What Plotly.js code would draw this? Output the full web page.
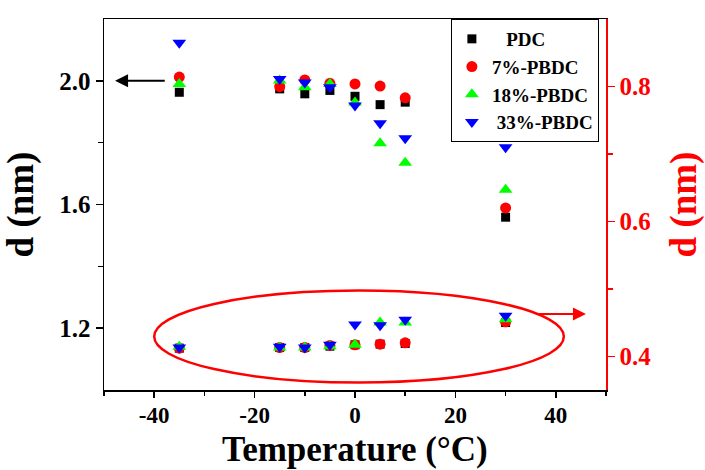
<!DOCTYPE html>
<html>
<head>
<meta charset="utf-8">
<script src="https://cdn.plot.ly/plotly-3.0.1.min.js"></script>
<style>
  html, body { margin: 0; padding: 0; background: #ffffff; }
  #chart { width: 705px; height: 470px; }
</style>
</head>
<body>
<div id="chart"></div>
<script>
// Temperatures (°C)
const temps = [-35, -15, -10, -5, 0, 5, 10, 30];

// Series names
const seriesNames = ["\u00a0\u00a0\u00a0PDC", "7%-PBDC", "18%-PBDC", "\u00a033%-PBDC"];

// Upper group, left axis d (nm)
const pdcLeft   = [1.963, 1.974, 1.958, 1.969, 1.950, 1.923, 1.931, 1.559];
const p7Left    = [2.012, 1.981, 2.003, 1.992, 1.990, 1.983, 1.945, 1.589];
const p18Left   = [1.990, 2.001, 1.979, 1.990, 1.930, 1.798, 1.735, 1.648];
const p33Left   = [2.123, 2.006, 1.995, 1.979, 1.920, 1.863, 1.814, 1.785];

// Lower group, right axis d (nm)
const pdcRight  = [0.412, 0.413, 0.413, 0.415, 0.417, 0.418, 0.419, 0.450];
const p7Right   = [0.412, 0.413, 0.413, 0.416, 0.417, 0.418, 0.420, 0.451];
const p18Right  = [0.414, 0.413, 0.413, 0.415, 0.417, 0.450, 0.450, 0.455];
const p33Right  = [0.413, 0.414, 0.413, 0.417, 0.447, 0.446, 0.454, 0.460];

// Tick labels
const xTickVals  = [-40, -20, 0, 20, 40];
const xTickText  = ["-40", "-20", "0", "20", "40"];
const yTickVals  = [1.2, 1.6, 2.0];
const yTickText  = ["1.2", "1.6", "2.0"];
const y2TickVals = [0.4, 0.6, 0.8];
const y2TickText = ["0.4", "0.6", "0.8"];

// Axis titles
const xTitle = "Temperature (°C)";
const yTitle = "d (nm)";

const colors  = ["#000000", "#ff0000", "#00ff00", "#0000ff"];
const symbols = ["square", "circle", "triangle-up", "triangle-down"];
const sizes   = [9, 11, 12, 12];
const leftData  = [pdcLeft, p7Left, p18Left, p33Left];
const rightData = [pdcRight, p7Right, p18Right, p33Right];

const FONT = "Liberation Serif, Times New Roman, serif";

const traces = [];
for (let i = 0; i < 4; i++) {
  traces.push({
    type: "scatter", mode: "markers",
    x: temps, y: leftData[i], yaxis: "y",
    name: seriesNames[i], legendgroup: "g" + i, showlegend: true,
    marker: { color: colors[i], symbol: symbols[i], size: sizes[i], line: { width: 0 } }
  });
}
for (let i = 0; i < 4; i++) {
  traces.push({
    type: "scatter", mode: "markers",
    x: temps, y: rightData[i], yaxis: "y2",
    name: seriesNames[i], legendgroup: "g" + i, showlegend: false,
    marker: { color: colors[i], symbol: symbols[i], size: sizes[i], line: { width: 0 } }
  });
}

const layout = {
  width: 705, height: 470,
  margin: { l: 104, r: 99, t: 19, b: 80, pad: 0 },
  paper_bgcolor: "#ffffff", plot_bgcolor: "#ffffff",
  font: { family: FONT, color: "#000000", weight: "bold" },
  showlegend: true,
  legend: {
    x: 0.691, y: 1, xanchor: "left", yanchor: "top",
    bordercolor: "#000000", borderwidth: 1, bgcolor: "rgba(255,255,255,0)",
    font: { family: FONT, size: 19, color: "#000000", weight: "bold" },
    itemwidth: 30, tracegroupgap: 0
  },
  xaxis: {
    range: [-50, 50],
    tickmode: "array", tickvals: xTickVals, ticktext: xTickText,
    ticks: "outside", ticklen: 6, tickwidth: 1.5, tickcolor: "#000000",
    ticklabelstandoff: -2,
    minor: { dtick: 10, tick0: 0, ticks: "outside", ticklen: 4, tickwidth: 1.5, tickcolor: "#000000", showgrid: false },
    showline: true, linecolor: "#000000", linewidth: 1.5, mirror: true,
    showgrid: false, zeroline: false,
    tickfont: { family: FONT, size: 23, color: "#000000", weight: "bold" }
  },
  yaxis: {
    range: [1.0, 2.2],
    tickmode: "array", tickvals: yTickVals, ticktext: yTickText,
    ticks: "outside", ticklen: 7, tickwidth: 1.5, tickcolor: "#000000",
    minor: { tickvals: [1.4, 1.8], ticks: "outside", ticklen: 5, tickwidth: 1.5, tickcolor: "#000000", showgrid: false },
    showline: true, linecolor: "#000000", linewidth: 1.5, mirror: false,
    showgrid: false, zeroline: false,
    tickfont: { family: FONT, size: 25, color: "#000000", weight: "bold" },
    title: { text: yTitle, font: { family: FONT, size: 37, color: "#000000", weight: "bold" } }
  },
  yaxis2: {
    range: [0.35, 0.9], overlaying: "y", side: "right",
    tickmode: "array", tickvals: y2TickVals, ticktext: y2TickText,
    ticks: "outside", ticklen: 7, tickwidth: 1.5, tickcolor: "#ff0000",
    minor: { tickvals: [0.5, 0.7], ticks: "outside", ticklen: 5, tickwidth: 1.5, tickcolor: "#ff0000", showgrid: false },
    showline: true, linecolor: "#ff0000", linewidth: 1.5,
    showgrid: false, zeroline: false,
    tickfont: { family: FONT, size: 25, color: "#ff0000", weight: "bold" },
    title: { text: yTitle, font: { family: FONT, size: 37, color: "#ff0000", weight: "bold" } }
  },
  shapes: [
    { type: "circle", xref: "x", yref: "y", x0: -40.0, x1: 41.6, y0: 1.024, y1: 1.322,
      line: { color: "#ff0000", width: 2.5 }, fillcolor: "rgba(0,0,0,0)", layer: "above" }
  ],
  annotations: [
    { xref: "paper", yref: "paper", x: 0.5, y: 0, xanchor: "center", yanchor: "bottom", yshift: -80,
      text: xTitle, showarrow: false, borderpad: 0,
      font: { family: FONT, size: 35, color: "#000000", weight: "bold" } },
    { xref: "x", yref: "y", axref: "x", ayref: "y", x: -47.8, y: 2.0, ax: -37.6, ay: 2.0,
      text: "", showarrow: true, arrowhead: 2, arrowsize: 1.3, arrowwidth: 2, arrowcolor: "#000000", standoff: 0 },
    { xref: "x", yref: "y2", axref: "x", ayref: "y2", x: 46.0, y: 0.4627, ax: 36.3, ay: 0.4627,
      text: "", showarrow: true, arrowhead: 2, arrowsize: 1.3, arrowwidth: 2, arrowcolor: "#ff0000", standoff: 0 }
  ]
};

Plotly.newPlot("chart", traces, layout, { displayModeBar: false, staticPlot: true });
</script>
</body>
</html>
